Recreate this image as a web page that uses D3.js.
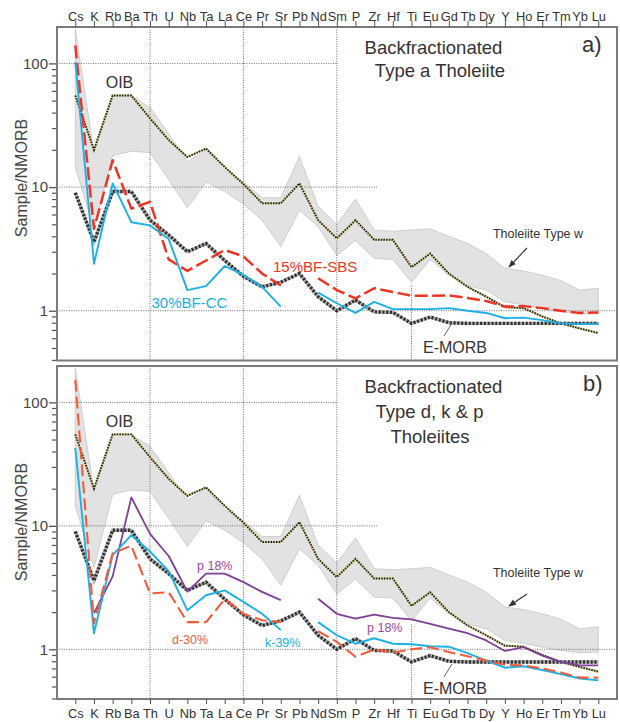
<!DOCTYPE html>
<html><head><meta charset="utf-8">
<script src="https://cdn.jsdelivr.net/npm/d3@7/dist/d3.min.js"></script>
<style>
body{margin:0;background:#fff;}
svg{display:block;}
text{font-family:"Liberation Sans",Arial,sans-serif;}
</style></head><body>
<svg id="chart" width="620" height="722"></svg>
<script>
// ---------- data ----------
const elements = ["Cs","K","Rb","Ba","Th","U","Nb","Ta","La","Ce","Pr","Sr","Pb","Nd","Sm","P","Zr","Hf","Ti","Eu","Gd","Tb","Dy","Y","Ho","Er","Tm","Yb","Lu"];
const oib       = [55, 20, 55, 55, 36, 24, 17.5, 20.5, 14.5, 10.6, 7.4, 7.4, 10.7, 5.4, 3.85, 5.4, 3.75, 3.75, 2.25, 2.9, 2.0, 1.56, 1.3, 1.07, 1.05, 0.9, 0.79, 0.72, 0.66];
const bandUpper = [190, 19, 55, 55, 44, 27, 16, 20, 13.5, 11, 8.2, 8.2, 17.7, 7.0, 5.0, 8.0, 4.5, 4.4, 4.5, 4.6, 4.0, 3.5, 2.9, 2.2, 2.1, 1.94, 1.75, 1.47, 1.52];
const bandLower = [14.5, 4.6, 18, 19.5, 19, 11.5, 6.8, 11, 9.2, 7.3, 5.4, 3.3, 6.5, 4.8, 2.8, 3.7, 2.65, 2.6, 1.7, 2.6, 1.94, 1.6, 1.47, 1.18, 1.12, 1.04, 0.98, 0.94, 0.95];
const emorb     = [9, 3.6, 9.2, 9.2, 5.4, 4.1, 3.0, 3.5, 2.55, 1.9, 1.56, 1.7, 2.0, 1.3, 1.0, 1.22, 0.98, 0.97, 0.79, 0.89, 0.8, 0.79, 0.79, 0.79, 0.79, 0.79, 0.79, 0.79, 0.79];
// panel a
const bf15SBS   = [140, 4.6, 16.5, 6.7, 7.6, 2.6, 2.1, 2.55, 3.1, 2.75, 2.0, 1.6, null, 1.83, 1.47, 1.26, 1.52, 1.42, 1.32, 1.32, 1.33, 1.27, 1.2, 1.08, 1.09, 1.05, 1.0, 0.96, 0.97];
const bf30CC    = [103, 2.4, 10.7, 5.2, 4.9, 3.8, 1.47, 1.58, 2.3, 1.95, 1.56, 1.08, null, 1.4, 1.15, 0.96, 1.18, 1.03, 1.03, 1.03, 1.05, 1.0, 0.96, 0.87, 0.88, 0.84, 0.79, 0.78, 0.78];
// panel b
const d30       = [153, 1.62, 6.0, 6.9, 2.84, 2.9, 1.66, 1.66, 2.55, 1.94, 1.72, 1.66, null, 1.4, 1.15, 0.87, 1.0, 0.94, 1.0, 1.04, 0.95, 0.88, 0.81, 0.75, 0.74, 0.70, 0.65, 0.59, 0.59];
const k39       = [42.7, 1.35, 5.8, 8.4, 6.2, 4.3, 2.07, 2.74, 3.0, 2.42, 1.94, 1.43, null, 1.66, 1.3, 1.11, 1.23, 1.11, 1.1, 1.06, 1.05, 0.93, 0.81, 0.71, 0.73, 0.68, 0.63, 0.58, 0.56];
const p18       = [null, 1.96, 3.9, 17, 8.6, 5.7, 2.93, 4.1, 4.1, 3.5, 2.92, 2.5, null, 2.57, 1.94, 1.77, 1.91, 1.8, 1.75, 1.61, 1.47, 1.35, 1.18, 0.97, 1.04, 0.89, 0.79, 0.74, 0.74];
const majorTicks = [1, 10, 100];
const minorTicks = [0.4,0.5,0.6,0.7,0.8,0.9,2,3,4,5,6,7,8,9,20,30,40,50,60,70,80,90];
const yDomain = [0.396, 197];

// ---------- layout ----------
const svg = d3.select("#chart");
const L = 57, R = 617;
const x = d3.scalePoint().domain(elements).range([75.3, 598.3]);

const panels = [
  {id:"a", top:27, bottom:360.5, axis:"top",
   title:[["Backfractionated",433.5,54],["Type a Tholeiite",440,77]], tag:["a)",582,52],
   series:[{v:bf15SBS, cls:"red"},{v:bf30CC, cls:"cyan"}]},
  {id:"b", top:366, bottom:699, axis:"bottom",
   title:[["Backfractionated",433.5,393],["Type d, k & p",429.5,418],["Tholeiites",430,443]], tag:["b)",583,391],
   series:[{v:p18, cls:"purple"},{v:k39, cls:"cyan"},{v:d30, cls:"orange"}]}
];

const styles = {
  red:   {stroke:"#ee3524", width:2.5, dash:"13,4.5"},
  orange:{stroke:"#f25c3c", width:2.1, dash:"12,5"},
  cyan:  {stroke:"#1cb0e8", width:1.9, dash:null},
  purple:{stroke:"#7e3f96", width:1.8, dash:null}
};

svg.append("defs").append("marker")
  .attr("id","arrow").attr("viewBox","0 0 10 10").attr("refX",9).attr("refY",5)
  .attr("markerWidth",7).attr("markerHeight",7).attr("orient","auto")
  .append("path").attr("d","M0,1 L10,5 L0,9 Z").attr("fill","#333");

panels.forEach(p => {
  const y = d3.scaleLog().domain(yDomain).range([p.bottom, p.top]);
  const g = svg.append("g");
  const clipId = "clip"+p.id;
  svg.select("defs").append("clipPath").attr("id",clipId)
    .append("rect").attr("x",L).attr("y",p.top).attr("width",R-L).attr("height",p.bottom-p.top);
  const plot = g.append("g").attr("clip-path",`url(#${clipId})`);

  // band (Tholeiite type w)
  const area = d3.area().x((d,i)=>x(elements[i])).y0((d,i)=>y(bandLower[i])).y1(d=>y(d));
  plot.append("path").datum(bandUpper).attr("d",area)
    .attr("fill","#e2e2e2").attr("stroke","#c6c6c6").attr("stroke-width",0.8);

  // gridlines
  const grid = plot.append("g").attr("stroke","#6a6a6a").attr("stroke-width",1).attr("stroke-dasharray","1,1.4").attr("fill","none");
  [[100, L, x("Sm")],[10, L, x("Zr")+4],[1, L, R]].forEach(([v,x1,x2])=>{
    grid.append("line").attr("x1",x1).attr("x2",x2).attr("y1",y(v)).attr("y2",y(v));
  });
  ["Th","Ce","Sm"].forEach(e=>{
    grid.append("line").attr("x1",x(e)).attr("x2",x(e)).attr("y1",p.top).attr("y2",p.bottom);
  });
  grid.append("line").attr("x1",x("Ti")).attr("x2",x("Ti")).attr("y1",y(1.6)).attr("y2",p.bottom);

  const line = d3.line().defined(d=>d!=null).x((d,i)=>x(elements[i])).y(d=>y(d));

  // OIB
  plot.append("path").datum(oib).attr("d",line).attr("fill","none")
    .attr("stroke","#e3dc9c").attr("stroke-width",2.2);
  plot.append("path").datum(oib).attr("d",line).attr("fill","none")
    .attr("stroke","#23231a").attr("stroke-width",1.9).attr("stroke-dasharray","1.6,1.1");

  // E-MORB
  plot.append("path").datum(emorb).attr("d",line).attr("fill","none")
    .attr("stroke","#b5b5b5").attr("stroke-width",3.4);
  plot.append("path").datum(emorb).attr("d",line).attr("fill","none")
    .attr("stroke","#333").attr("stroke-width",3.4).attr("stroke-dasharray","2.2,1.6");

  // series
  p.series.forEach(s=>{
    const st = styles[s.cls];
    const path = plot.append("path").datum(s.v).attr("d",line).attr("fill","none")
      .attr("stroke",st.stroke).attr("stroke-width",st.width).attr("stroke-linejoin","round");
    if (st.dash) path.attr("stroke-dasharray",st.dash);
  });

  // frame
  g.append("rect").attr("x",L).attr("y",p.top).attr("width",R-L).attr("height",p.bottom-p.top)
    .attr("fill","none").attr("stroke","#7a7a7a").attr("stroke-width",2);

  // y axis
  const yMajor = d3.axisLeft(y).tickValues(majorTicks).tickSize(7).tickPadding(1).tickFormat(d3.format("~g"));
  const ya = g.append("g").attr("transform",`translate(${L-1},0)`).call(yMajor);
  ya.select(".domain").remove();
  ya.selectAll("line").attr("stroke","#555").attr("stroke-width",1.3);
  ya.selectAll("text").attr("font-size",15).attr("fill","#444").attr("font-family","Liberation Sans, Arial, sans-serif");
  const yMinor = d3.axisLeft(y).tickValues(minorTicks).tickSize(4).tickFormat("");
  const ym = g.append("g").attr("transform",`translate(${L-1},0)`).call(yMinor);
  ym.select(".domain").remove();
  ym.selectAll("line").attr("stroke","#555").attr("stroke-width",1.2);

  // x axis
  let xa;
  if (p.axis==="top") {
    xa = g.append("g").attr("transform",`translate(0,${p.top})`).call(d3.axisTop(x).tickSize(6).tickPadding(0.5));
  } else {
    xa = g.append("g").attr("transform",`translate(0,${p.bottom})`).call(d3.axisBottom(x).tickSize(5).tickPadding(5));
  }
  xa.select(".domain").remove();
  xa.selectAll("line").attr("stroke","#555").attr("stroke-width",1);
  xa.selectAll("text").attr("font-size",12.8).attr("fill","#333")
    .attr("font-family","'Liberation Sans Narrow', 'Liberation Sans', Arial, sans-serif");

  // y label
  const cy = p.id==="a" ? 178 : 522;
  g.append("text").attr("transform",`translate(27,${cy}) rotate(-90)`).attr("text-anchor","middle")
    .attr("font-size",16).attr("fill","#444").text("Sample/NMORB");

  // titles
  p.title.forEach(([t,tx,ty])=>{
    g.append("text").attr("x",tx).attr("y",ty).attr("text-anchor","middle")
      .attr("font-size",18.5).attr("fill","#333").text(t);
  });
  g.append("text").attr("x",p.tag[1]).attr("y",p.tag[2]).attr("font-size",22).attr("fill","#333").text(p.tag[0]);

  // common annotations
  const dy = p.id==="a" ? 0 : 339;
  g.append("text").attr("x",119.5).attr("y",87.5+dy).attr("text-anchor","middle").attr("font-size",16).attr("fill","#333").text("OIB");
  const thY = p.id==="a" ? 238 : 577;
  g.append("text").attr("x",538).attr("y",thY).attr("text-anchor","middle").attr("font-size",12.5).attr("fill","#333").text("Tholeiite Type w");
  if (p.id==="a") {
    g.append("line").attr("x1",527).attr("y1",248).attr("x2",509).attr("y2",267)
      .attr("stroke","#333").attr("stroke-width",1.1).attr("marker-end","url(#arrow)");
  } else {
    g.append("line").attr("x1",527).attr("y1",594).attr("x2",509).attr("y2",606)
      .attr("stroke","#333").attr("stroke-width",1.1).attr("marker-end","url(#arrow)");
  }
  const emY = p.id==="a" ? 353 : 694;
  g.append("text").attr("x",423).attr("y",emY).attr("font-size",16).attr("fill","#333").text("E-MORB");
  g.append("line").attr("x1",444).attr("y1",emY-17).attr("x2",452).attr("y2",emY-30)
    .attr("stroke","#666").attr("stroke-width",1);

  if (p.id==="a") {
    g.append("text").attr("x",273).attr("y",271.5).attr("font-size",15).attr("fill","#ee3524").text("15%BF-SBS");
    g.append("text").attr("x",151.5).attr("y",308).attr("font-size",15).attr("fill","#1cb0e8").text("30%BF-CC");
  } else {
    g.append("text").attr("x",197).attr("y",570).attr("font-size",12.5).attr("fill","#a0479c").text("p 18%");
    g.append("text").attr("x",367).attr("y",632).attr("font-size",12.5).attr("fill","#a0479c").text("p 18%");
    g.append("text").attr("x",172).attr("y",644).attr("font-size",12.5).attr("fill","#f25c3c").text("d-30%");
    g.append("text").attr("x",265).attr("y",647).attr("font-size",12.5).attr("fill","#1cb0e8").text("k-39%");
  }
});
</script>
</body></html>
